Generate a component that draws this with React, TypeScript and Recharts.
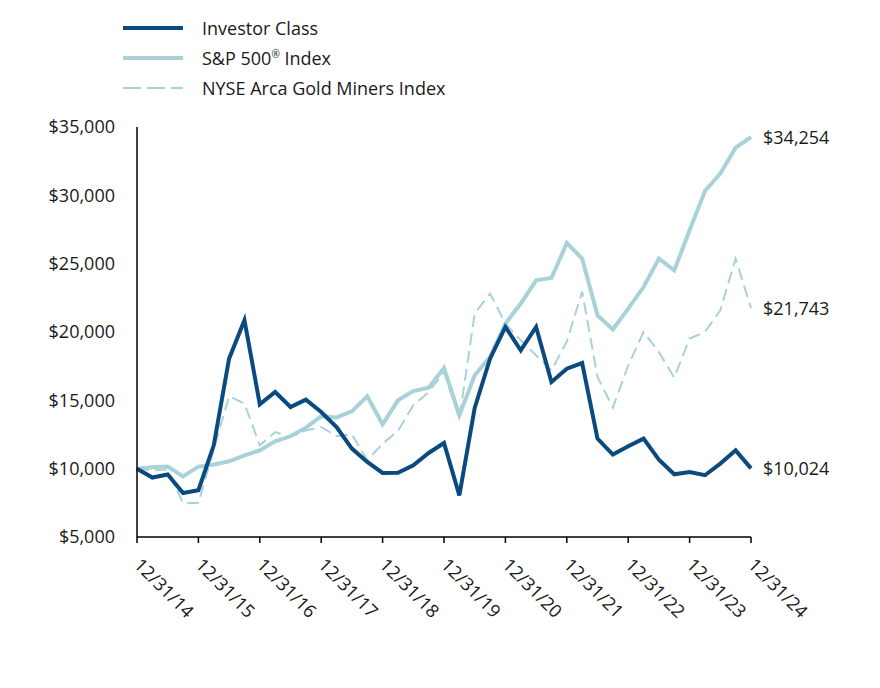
import React from "react";
import {
  LineChart,
  Line,
  XAxis,
  YAxis,
  Legend,
} from "recharts";

// quarter index 0..40 = 12/31/14 .. 12/31/24
const yearLabels = [
  "12/31/14", "12/31/15", "12/31/16", "12/31/17", "12/31/18", "12/31/19",
  "12/31/20", "12/31/21", "12/31/22", "12/31/23", "12/31/24",
];

const investorClass = [
  10000, 9350, 9570, 8220, 8420, 11710, 18050, 20860, 14710, 15610, 14510,
  15050, 14150, 13050, 11470, 10490, 9690, 9700, 10250, 11150, 11880,
  8050, 14450, 18050, 20370, 18660, 20370, 16340, 17320, 17730, 12200,
  11030, 11640, 12200, 10660, 9590, 9760, 9520, 10370, 11340, 10024,
];

const sp500 = [
  10000, 10100, 10150, 9440, 10150, 10300, 10540, 10980, 11340, 12000, 12370,
  13000, 13830, 13750, 14200, 15300, 13250, 15000, 15680, 15930, 17370,
  13900, 16830, 18170, 20620, 22080, 23780, 23950, 26510, 25370, 21220,
  20180, 21710, 23290, 25370, 24510, 27440, 30320, 31590, 33490, 34254,
];

const goldMiners = [
  10000, 9880, 9950, 7450, 7500, 11400, 15300, 14760, 11710, 12680, 12320,
  12800, 13050, 12370, 12520, 10610, 11830, 12760, 14640, 15610, 17070,
  13660, 21350, 22810, 20620, 19390, 18300, 17200, 19300, 22950, 16710,
  14470, 17560, 20000, 18540, 16660, 19520, 20000, 21590, 25370, 21743,
];

const seriesNames = ["Investor Class", "S&P 500® Index", "NYSE Arca Gold Miners Index"];

const data = investorClass.map((v, i) => ({
  q: i,
  investor: v,
  sp: sp500[i],
  gold: goldMiners[i],
}));

const DARK = "#0a4a7e";
const LIGHT = "#a8d2d8";
const TEXT = "#1a1a1a";
const FONT = "'Open Sans', sans-serif";

const fmt = (v: number) => "$" + v.toLocaleString("en-US");

const XTick = (props: any) => {
  const { x, y, payload } = props;
  const label = yearLabels[Math.round(payload.value / 4)];
  const tx = x - 4;
  const ty = y + 21;
  return (
    <text
      x={tx}
      y={ty}
      transform={`rotate(45 ${tx} ${ty})`}
      textAnchor="start"
      fontSize={18}
      fontFamily={FONT}
      fill={TEXT}
    >
      {label}
    </text>
  );
};

const endLabel = (last: number) => (props: any) => {
  const { x, y, index, value } = props;
  if (index !== last) return null;
  return (
    <text
      x={x + 12}
      y={y + 7}
      fontSize={18}
      fontFamily={FONT}
      fill={TEXT}
    >
      {fmt(value)}
    </text>
  );
};

// split "®" off so it can be drawn as a superscript like the original
const withSup = (s: string) => {
  const parts = s.split("®");
  if (parts.length < 2) return s;
  return (
    <>
      {parts[0]}
      <sup style={{ fontSize: 10 }}>®</sup>
      {parts[1]}
    </>
  );
};

const LegendBox = () => {
  const rows = [
    { name: seriesNames[0], color: DARK, w: 4, dash: undefined },
    { name: seriesNames[1], color: LIGHT, w: 4, dash: undefined },
    { name: seriesNames[2], color: LIGHT, w: 2, dash: "18 6" },
  ];
  return (
    <div style={{ fontFamily: FONT, fontSize: 18, color: TEXT }}>
      {rows.map((r) => (
        <div key={r.name} style={{ display: "flex", alignItems: "center", height: 30 }}>
          <svg width={60} height={10} style={{ marginRight: 19 }}>
            <line x1={0} y1={5} x2={60} y2={5} stroke={r.color} strokeWidth={r.w} strokeDasharray={r.dash} />
          </svg>
          <span>{withSup(r.name)}</span>
        </div>
      ))}
    </div>
  );
};

const App = () => {
  const last = data.length - 1;
  return (
    <div style={{ position: "absolute", left: 0, top: 0 }}>
      <LineChart
        width={880}
        height={688}
        data={data}
        margin={{ top: 127, right: 129, left: 0, bottom: 91 }}
      >
        <XAxis
          dataKey="q"
          type="number"
          domain={[0, 40]}
          ticks={[0, 4, 8, 12, 16, 20, 24, 28, 32, 36, 40]}
          tick={<XTick />}
          tickSize={6}
          axisLine={{ stroke: "#000", strokeWidth: 1.5 }}
          tickLine={{ stroke: "#000", strokeWidth: 1.5 }}
          interval={0}
          height={60}
        />
        <YAxis
          type="number"
          domain={[5000, 35000]}
          ticks={[5000, 10000, 15000, 20000, 25000, 30000, 35000]}
          tickFormatter={fmt}
          width={137}
          tickSize={0}
          tickMargin={22}
          tickLine={false}
          axisLine={{ stroke: "#000", strokeWidth: 1.5 }}
          tick={{ fontSize: 18, fontFamily: FONT, fill: TEXT }}
        />
        <Legend
          layout="vertical"
          align="center"
          verticalAlign="middle"
          content={<LegendBox />}
          wrapperStyle={{ top: 13, left: 123, width: 400 }}
        />
        <Line
          dataKey="gold"
          name={seriesNames[2]}
          stroke={LIGHT}
          strokeWidth={2}
          strokeDasharray="12 6"
          dot={false}
          isAnimationActive={false}
          label={endLabel(last)}
        />
        <Line
          dataKey="sp"
          name={seriesNames[1]}
          stroke={LIGHT}
          strokeWidth={4}
          dot={false}
          isAnimationActive={false}
          label={endLabel(last)}
        />
        <Line
          dataKey="investor"
          name={seriesNames[0]}
          stroke={DARK}
          strokeWidth={4}
          dot={false}
          isAnimationActive={false}
          label={endLabel(last)}
        />
      </LineChart>
    </div>
  );
};

export default App;
